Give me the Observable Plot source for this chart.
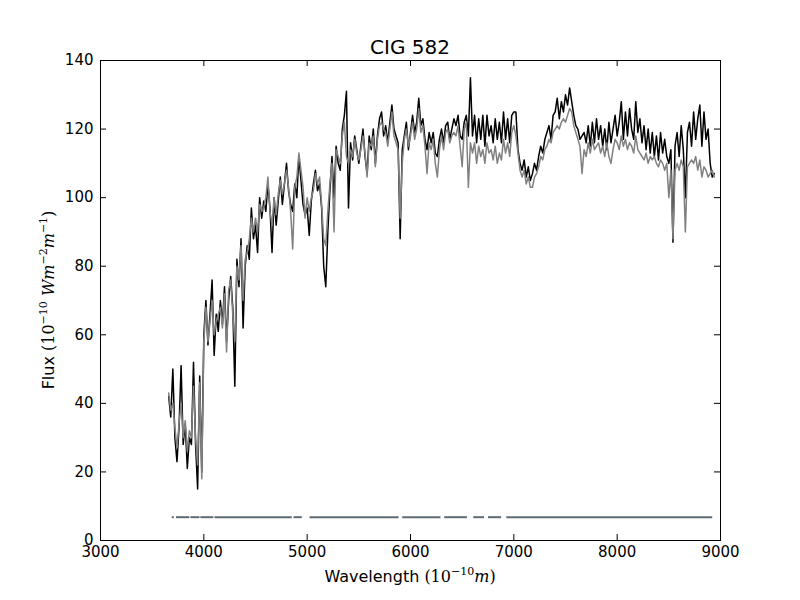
<!DOCTYPE html>
<html><head><meta charset="utf-8">
<script src="https://cdn.jsdelivr.net/npm/d3@7"></script>
<script src="https://cdn.jsdelivr.net/npm/@observablehq/plot@0.6"></script>
<style>body{margin:0;background:#fff}</style>
</head><body><div id="chart"></div>
<script>
// Sampling grid (Angstrom): 3660 .. 8940 every 20
const wavelengthStart = 3660, wavelengthStep = 20;
const observedFlux = [
42,36,50,30,23,33,51,28,34,21,30,28,52,
28,15,48,20,60,
70,57,66,76,54,66,61,70,63,74,58,70,77,68,45,
82,74,88,62,80,86,82,97,88,92,84,100,94,99,96,
104,97,84,100,92,99,106,98,104,110,102,98,96,104,100,112,105,98,95,97,89,99,104,108,102,
104,97,80,74,90,102,112,100,115,110,108,120,124,131,97,
116,111,118,114,110,115,120,112,107,118,114,120,110,118,123,125,118,121,116,122,127,120,118,116,88,
114,118,122,114,119,124,119,122,129,121,123,117,114,119,116,119,113,112,117,120,116,121,122,117,120,123,121,124,118,117,122,124,118,
135,118,124,116,123,117,124,115,124,118,121,116,123,117,122,116,125,117,123,116,124,125,
125,114,110,108,111,106,109,105,107,110,108,112,115,113,117,
119,121,117,124,125,129,123,128,125,130,127,132,128,124,121,120,117,118,119,116,
121,115,122,116,123,117,121,115,120,114,122,116,120,124,118,122,128,117,125,118,126,120,117,128,119,123,116,121,114,120,113,119,112,118,111,119,113,117,112,
110,114,87,115,119,112,121,114,100,119,122,115,125,117,123,127,115,125,117,120,110,106,107
];
const modelFlux = [
43,38,40,33,27,34,40,30,35,26,32,30,45,
30,22,46,18,58,
68,58,64,70,60,64,66,68,62,72,55,73,76,66,58,
80,76,86,70,82,84,88,94,90,94,90,98,96,97,100,
106,96,92,100,95,101,105,101,104,108,103,96,85,103,106,113,108,103,94,100,96,100,102,107,104,
106,98,88,86,96,104,110,90,114,112,110,118,122,112,110,
114,112,117,113,111,114,118,113,106,116,115,118,109,117,121,122,120,119,115,120,125,118,116,114,94,
110,117,120,115,118,122,117,120,126,119,121,115,107,116,114,117,110,106,114,118,114,119,120,116,118,119,118,121,115,109,120,122,103,
116,113,116,110,115,112,114,110,116,113,114,111,115,110,113,111,117,113,116,112,119,121,
118,113,108,106,108,104,106,103,103,106,107,109,112,111,114,
115,117,116,119,120,121,120,122,123,122,124,126,125,121,119,117,115,107,114,112,
116,113,117,114,115,116,113,115,112,116,112,110,114,117,116,114,118,115,117,114,116,115,113,118,114,113,112,111,113,110,112,111,112,110,109,111,110,108,110,
100,108,88,108,110,108,111,109,90,109,110,111,110,112,108,111,106,109,108,106,107,108,106
];
// Good-pixel segments shown as a flat line near the bottom
const maskStart = [3690,3730,3870,3966,4103,4868,5023,5920,6326,6607,6750,6927];
const maskEnd   = [3710,3860,3958,4092,4851,4948,5884,6290,6546,6711,6877,8920];
const maskLevel = 6.8;
const xTicks = [3000,4000,5000,6000,7000,8000,9000];
const yTicks = [0,20,40,60,80,100,120,140];
const titleText = "CIG 582";

const n = Math.min(observedFlux.length, modelFlux.length);
const rows = d3.range(n).map(i => ({w: wavelengthStart + i*wavelengthStep, obs: observedFlux[i], model: modelFlux[i]}));
const maskRows = maskStart.map((a,i) => ({a, b: maskEnd[i], v: maskLevel}));

const W = 800, H = 600, mL = 100, mR = 80, mT = 60, mB = 60;
const fw = W - mL - mR, fh = H - mT - mB, tk = 6;

const chart = Plot.plot({
  width: W, height: H, marginLeft: mL, marginRight: mR, marginTop: mT, marginBottom: mB,
  style: {fontFamily: "DejaVu Sans", fontSize: "15px", background: "white", color: "black"},
  x: {domain: [3000, 9000]},
  y: {domain: [0, 140]},
  marks: [
    Plot.lineY(rows, {x: "w", y: "obs", stroke: "black", strokeWidth: 1.5}),
    Plot.lineY(rows, {x: "w", y: "model", stroke: "#808080", strokeWidth: 1.5}),
    Plot.link(maskRows, {x1: "a", x2: "b", y1: "v", y2: "v", stroke: "#5e6a72", strokeWidth: 2}),
    Plot.tickX(xTicks, {x: d => d, insetTop: fh - tk, stroke: "black"}),
    Plot.tickX(xTicks, {x: d => d, insetBottom: fh - tk, stroke: "black"}),
    Plot.tickY(yTicks, {y: d => d, insetRight: fw - tk, stroke: "black"}),
    Plot.tickY(yTicks, {y: d => d, insetLeft: fw - tk, stroke: "black"}),
    Plot.axisX(xTicks, {tickSize: 0, tickPadding: 6, tickFormat: d3.format("d"), label: null}),
    Plot.axisY(yTicks, {tickSize: 0, tickPadding: 7, tickFormat: d3.format("d"), label: null}),
    Plot.frame({stroke: "black", strokeWidth: 1})
  ]
});
document.getElementById("chart").appendChild(chart);

const svg = d3.select(chart);
svg.append("text").attr("x", mL + fw/2).attr("y", 54).attr("text-anchor", "middle")
  .style("font-family", "DejaVu Sans").style("font-size", "20px").attr("fill", "black").text(titleText);

// x label
const xl = svg.append("text").attr("x", mL + fw/2).attr("y", 582).attr("text-anchor", "middle")
  .style("font-size", "16px").attr("fill", "black");
xl.append("tspan").style("font-family", "DejaVu Sans").text("Wavelength ");
xl.append("tspan").style("font-family", "DejaVu Serif").text("(10");
xl.append("tspan").style("font-family", "DejaVu Serif").style("font-size", "11px").attr("dy", -7).text("\u221210");
xl.append("tspan").style("font-family", "DejaVu Serif").style("font-style", "italic").attr("dy", 7).text("m");
xl.append("tspan").style("font-family", "DejaVu Serif").text(")");

// y label
const yl = svg.append("text").attr("transform", `translate(54,${mT + fh/2}) rotate(-90)`).attr("text-anchor", "middle")
  .style("font-size", "16px").attr("fill", "black");
yl.append("tspan").style("font-family", "DejaVu Sans").text("Flux ");
yl.append("tspan").style("font-family", "DejaVu Serif").text("(10");
yl.append("tspan").style("font-family", "DejaVu Serif").style("font-size", "11px").attr("dy", -7).text("\u221210");
yl.append("tspan").style("font-family", "DejaVu Serif").style("font-style", "italic").attr("dy", 7).text(" Wm");
yl.append("tspan").style("font-family", "DejaVu Serif").style("font-size", "11px").attr("dy", -7).text("\u22122");
yl.append("tspan").style("font-family", "DejaVu Serif").style("font-style", "italic").attr("dy", 7).text("m");
yl.append("tspan").style("font-family", "DejaVu Serif").style("font-size", "11px").attr("dy", -7).text("\u22121");
yl.append("tspan").style("font-family", "DejaVu Serif").attr("dy", 7).text(")");
</script>
</body></html>
